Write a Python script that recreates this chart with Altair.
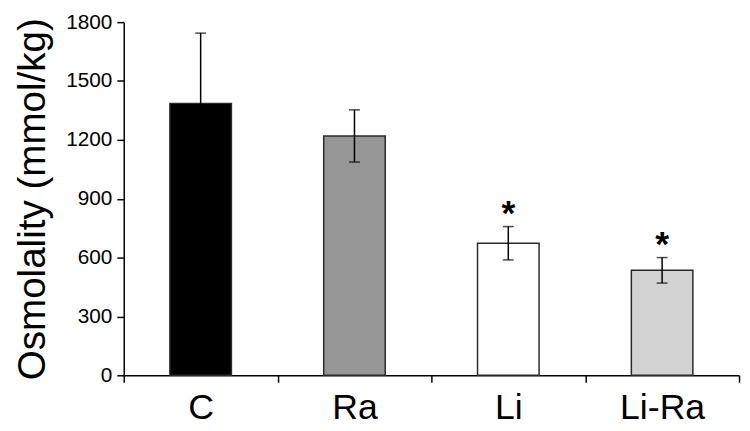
import altair as alt
import pandas as pd

groups = ["C", "Ra", "Li", "Li-Ra"]
means = [1386, 1220, 673, 535]
errors = [358, 133, 85, 65]
marks = ["", "", "*", "*"]
fills = ["#000000", "#969696", "#ffffff", "#d2d2d2"]
y_ticks = [0, 300, 600, 900, 1200, 1500, 1800]
y_title = "Osmolality (mmol/kg)"

df = pd.DataFrame({"group": groups, "mean": means, "err": errors, "sig": marks})
df["lo"] = df["mean"] - df["err"]
df["hi"] = df["mean"] + df["err"]

FONT = "Liberation Sans"

x_enc = alt.X("group:N", sort=groups, title=None,
              scale=alt.Scale(paddingInner=0, paddingOuter=0))
y_scale = alt.Scale(domain=[0, 1800], nice=False)
y_axis = alt.Axis(values=y_ticks, format="d")

base = alt.Chart(df)

bars = base.mark_bar(width=alt.RelativeBandSize(0.4), stroke="#2a2a2a", strokeWidth=1.5).encode(
    x=x_enc,
    y=alt.Y("mean:Q", title=y_title, scale=y_scale, axis=y_axis),
    fill=alt.Fill("group:N", sort=groups,
                  scale=alt.Scale(domain=groups, range=fills), legend=None),
)

err_rule = base.mark_rule(color="#000000", strokeWidth=1.5).encode(
    x=x_enc,
    y=alt.Y("lo:Q", title=y_title, scale=y_scale, axis=y_axis),
    y2="hi:Q",
)

cap_hi = base.mark_tick(color="#000000", size=11, thickness=1.5, orient="horizontal").encode(
    x=x_enc,
    y=alt.Y("hi:Q", title=y_title, scale=y_scale, axis=y_axis),
)

cap_lo = base.mark_tick(color="#000000", size=11, thickness=1.5, orient="horizontal").encode(
    x=x_enc,
    y=alt.Y("lo:Q", title=y_title, scale=y_scale, axis=y_axis),
)

stars = base.mark_text(fontSize=36, fontWeight="bold", font=FONT, baseline="alphabetic",
                       dy=-2, color="#000000").encode(
    x=x_enc,
    y=alt.Y("hi:Q", title=y_title, scale=y_scale, axis=y_axis),
    text="sig:N",
)

chart = alt.layer(bars, err_rule, cap_hi, cap_lo, stars).properties(
    width=622,
    height=357,
    autosize=alt.AutoSizeParams(type="none"),
    padding={"left": 117, "top": 12, "right": 3, "bottom": 53},
    background="#ffffff",
).configure_view(
    stroke=None
).configure_axis(
    grid=False,
    domainColor="#000000",
    domainWidth=1.5,
    tickColor="#000000",
    tickWidth=1.5,
    tickSize=7,
    labelFont=FONT,
    labelColor="#000000",
    titleFont=FONT,
    titleColor="#000000",
    titleFontWeight="normal",
).configure_axisX(
    tickBand="extent",
    labelAngle=0,
    labelFontSize=36,
    labelPadding=9,
).configure_axisY(
    labelFontSize=21,
    labelPadding=5,
    titleFontSize=39,
    titlePadding=13,
)

chart.save("out.html", embed_options={"renderer": "svg", "actions": False})
